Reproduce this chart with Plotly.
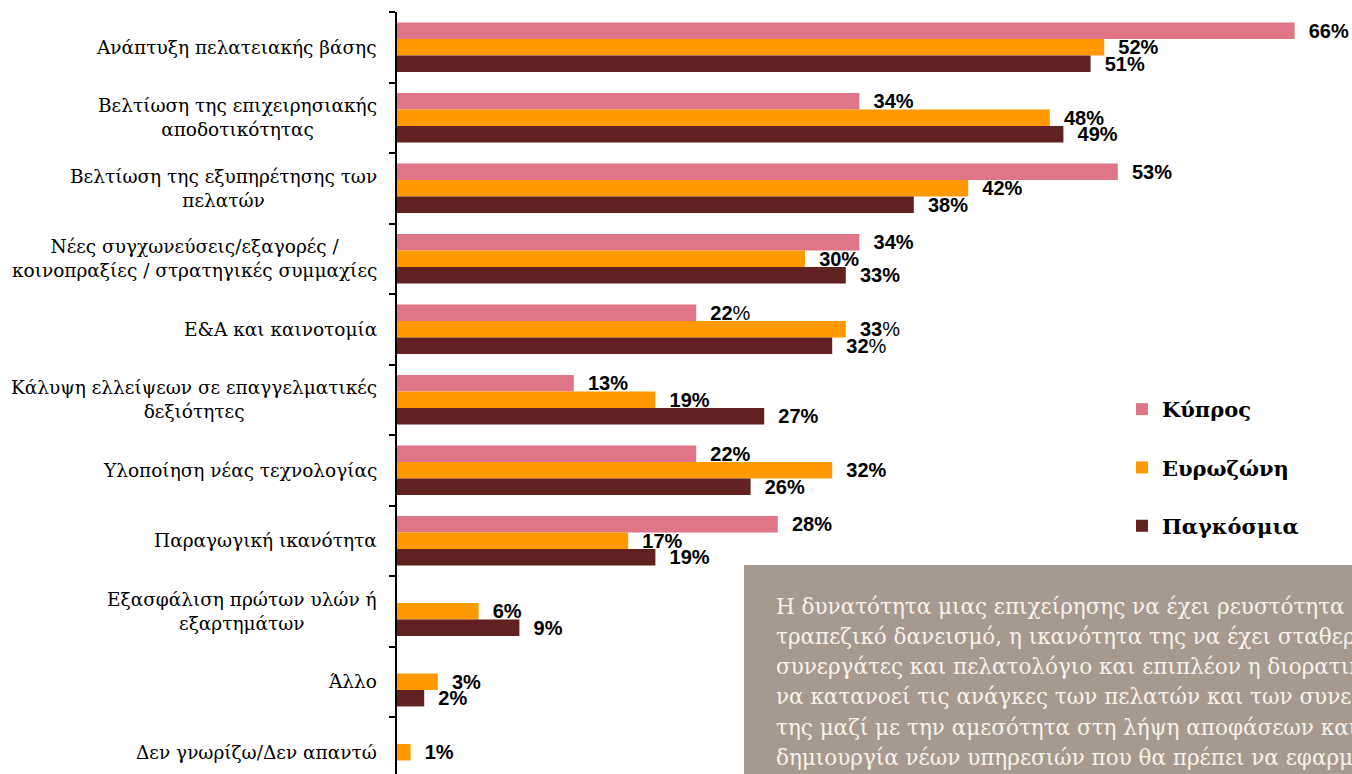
import plotly.graph_objects as go

categories = [
    "Ανάπτυξη πελατειακής βάσης",
    "Βελτίωση της επιχειρησιακής<br>αποδοτικότητας",
    "Βελτίωση της εξυπηρέτησης των<br>πελατών",
    "Νέες συγχωνεύσεις/εξαγορές /<br>κοινοπραξίες / στρατηγικές συμμαχίες",
    "Ε&Α και καινοτομία",
    "Κάλυψη ελλείψεων σε επαγγελματικές<br>δεξιότητες",
    "Υλοποίηση νέας τεχνολογίας",
    "Παραγωγική ικανότητα",
    "Εξασφάλιση πρώτων υλών ή<br>εξαρτημάτων",
    "Άλλο",
    "Δεν γνωρίζω/Δεν απαντώ",
]
series_names = ["Κύπρος", "Ευρωζώνη", "Παγκόσμια"]
cyprus = [66, 34, 53, 34, 22, 13, 22, 28, None, None, None]
eurozone = [52, 48, 42, 30, 33, 19, 32, 17, 6, 3, 1]
global_ = [51, 49, 38, 33, 32, 27, 26, 19, 9, 2, None]
colors = ["#E07587", "#FF9900", "#622121"]
plain_pct_rows = [4]  # row where the % sign is not bold

box_lines = [
    "Η δυνατότητα μιας επιχείρησης να έχει ρευστότητα και",
    "τραπεζικό δανεισμό, η ικανότητα της να έχει σταθερούς",
    "συνεργάτες και πελατολόγιο και επιπλέον η διορατικότητα",
    "να κατανοεί τις ανάγκες των πελατών και των συνεργατών",
    "της μαζί με την αμεσότητα στη λήψη αποφάσεων και τη",
    "δημιουργία νέων υπηρεσιών που θα πρέπει να εφαρμόσει",
]

W, H = 1352, 774
ML, MT = 397, 12
px_per_unit = 13.6
xmax = (W - ML) / px_per_unit
row_px = 70.5
ybottom = 10.5 - ((11 * row_px + MT) - H) / row_px


def labels(vals):
    out = []
    for i, v in enumerate(vals):
        if v is None:
            out.append("")
        elif i in plain_pct_rows:
            out.append("\u00a0\u00a0<b>%d</b>%%" % v)
        else:
            out.append("\u00a0\u00a0<b>%d%%</b>" % v)
    return out


fig = go.Figure()
for name, vals, col in zip(series_names, [cyprus, eurozone, global_], colors):
    fig.add_trace(go.Bar(
        y=categories, x=vals, name=name, orientation="h",
        marker=dict(color=col, line=dict(width=0)),
        text=labels(vals), textposition="outside", constraintext="none",
        cliponaxis=False,
        textfont=dict(family="Liberation Sans, Arial, sans-serif", size=20, color="#000000"),
        legendgroup=name, hoverinfo="skip",
    ))

for c in categories:
    fig.add_annotation(
        x=0, xref="paper", y=c, yref="y", xanchor="right", yanchor="middle",
        xshift=-18, text=c, showarrow=False, align="center",
        font=dict(family="DejaVu Serif, serif", size=18.5, color="#000000"),
    )

# text box
bx0 = (744 - ML) / (W - ML)
by1 = (H - 565) / (H - MT)
fig.add_shape(type="rect", xref="paper", yref="paper", x0=bx0, x1=1.2, y0=-0.2, y1=by1,
              fillcolor="#A69A90", line=dict(width=0), layer="above")
line_gap = 30.3
for i, ln in enumerate(box_lines):
    fig.add_annotation(
        x=(774 - ML) / (W - ML), xref="paper", y=(H - 606) / (H - MT), yref="paper",
        yshift=-i * line_gap,
        xanchor="left", yanchor="middle", align="left", showarrow=False,
        text=ln,
        font=dict(family="DejaVu Serif, serif", size=21.5, color="#F7F2EC"),
    )

fig.update_layout(
    width=W, height=H,
    margin=dict(l=ML, r=0, t=MT, b=0, pad=0),
    paper_bgcolor="white", plot_bgcolor="white",
    barmode="group", bargap=0.3, bargroupgap=0,
    showlegend=True,
    legend=dict(
        x=(1122 - ML) / (W - ML), y=(H - 389) / (H - MT), xanchor="left", yanchor="top",
        traceorder="grouped", tracegroupgap=28,
        font=dict(family="DejaVu Serif, serif", size=21, color="#000000", weight="bold"),
        bgcolor="rgba(0,0,0,0)",
    ),
    xaxis=dict(range=[0, xmax], visible=False, showgrid=False, zeroline=False),
    yaxis=dict(
        range=[ybottom, -0.5], showticklabels=False, showgrid=False, zeroline=False,
        showline=True, linecolor="#000000", linewidth=1.5,
        ticks="outside", ticklen=6, tickcolor="#000000", tickwidth=1.5,
        tickson="boundaries",
    ),
)

fig.write_html("out.html", config={"displayModeBar": False},
               post_script="document.body.style.margin='0';")
